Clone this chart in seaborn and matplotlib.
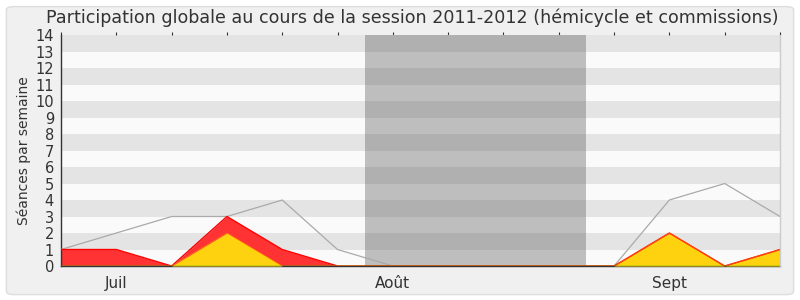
import numpy as np
import pandas as pd
import matplotlib
matplotlib.use("Agg")
import matplotlib.pyplot as plt
from matplotlib.patches import FancyBboxPatch
import seaborn as sns

# Data (weeks, index positions)
weeks = list(range(14))
total = [1, 2, 3, 3, 4, 1, 0, 0, 0, 0, 0, 4, 5, 3]
red_vals = [1, 1, 0, 3, 1, 0, 0, 0, 0, 0, 0, 2, 0, 1]
yellow_vals = [0, 0, 0, 2, 0, 0, 0, 0, 0, 0, 0, 2, 0, 1]
green_vals = [0] * 14
month_labels = ["Juil", "Août", "Sept"]
month_pos = [1, 6, 11]
vacation = (5.5, 9.5)

sns.set_style("white")
plt.rcParams['font.family'] = ['DejaVu Sans']

fig = plt.figure(figsize=(8, 3), dpi=100)
fig.patch.set_facecolor("white")
frame = FancyBboxPatch((0.008, 0.018), 0.984, 0.96, boxstyle="round,pad=0,rounding_size=0.01",
                       transform=fig.transFigure, facecolor="#f0f0f0", edgecolor="#dddddd",
                       linewidth=1, zorder=-10)
fig.patches.append(frame)

ax = fig.add_axes([0.07625, 0.1133, 0.89875, 0.77])
ax.set_xlim(0, 13)
ax.set_ylim(0, 14)

# stripes
for k in range(14):
    c = "#e4e4e4" if k % 2 == 1 else "#fafafa"
    ax.axhspan(k, k + 1, color=c, zorder=0, lw=0)
    c2 = "#b0b0b0" if k % 2 == 1 else "#bebebe"
    ax.fill_between([vacation[0], vacation[1]], k, k + 1, color=c2, zorder=0.5, lw=0)

df = pd.DataFrame({"week": weeks, "total": total, "red": red_vals,
                   "yellow": yellow_vals, "green": green_vals})

ax.fill_between(df["week"], 0, df["red"], color="#ff3333", lw=0, zorder=2)
ax.fill_between(df["week"], 0, df["yellow"], color="#ffd20f", lw=0, zorder=3)
sns.lineplot(data=df, x="week", y="total", ax=ax, color="#aaaaaa", lw=0.9, zorder=4)
sns.lineplot(data=df, x="week", y="red", ax=ax, color="#ff0000", lw=1, zorder=5)
sns.lineplot(data=df, x="week", y="yellow", ax=ax, color="#ff8c00", lw=0.6, zorder=5, alpha=0.6)
sns.lineplot(data=df, x="week", y="green", ax=ax, color="#00aa00", lw=1, zorder=6)

ax.set_xlabel("")
ax.set_ylabel("Séances par semaine", fontsize=10, color="#333333")
ax.set_yticks(range(15))
ax.set_yticklabels([str(i) for i in range(15)], fontsize=10.5, color="#333333")
ax.set_xticks(weeks)
xlabels = [""] * 14
for p, lab in zip(month_pos, month_labels):
    xlabels[p] = lab
ax.set_xticklabels(xlabels, fontsize=11, color="#333333")
ax.tick_params(axis="x", which="major", length=5, color="#333333", direction="out",
               top=False, pad=2)
ax.tick_params(axis="y", length=4, color="#333333", direction="out", pad=1)
ax.yaxis.labelpad = 3

top = ax.secondary_xaxis("top")
top.set_xticks(weeks)
top.set_xticklabels([""] * 14)
top.tick_params(length=2.5, color="#333333", direction="out")
top.spines["top"].set_visible(False)

for s in ["top", "right"]:
    ax.spines[s].set_visible(False)
ax.spines["left"].set_color("#333333")
ax.spines["bottom"].set_color("#333333")
ax.spines["left"].set_linewidth(1)
ax.spines["bottom"].set_linewidth(1)
ax.plot([13, 13], [0, 14], color="#cccccc", lw=1, zorder=7, clip_on=False)

fig.text(0.515, 0.94,
         "Participation globale au cours de la session 2011-2012 (hémicycle et commissions)",
         fontsize=12.6, color="#333333", ha="center", va="center")

fig.savefig("out.png", dpi=100, facecolor=fig.get_facecolor())
